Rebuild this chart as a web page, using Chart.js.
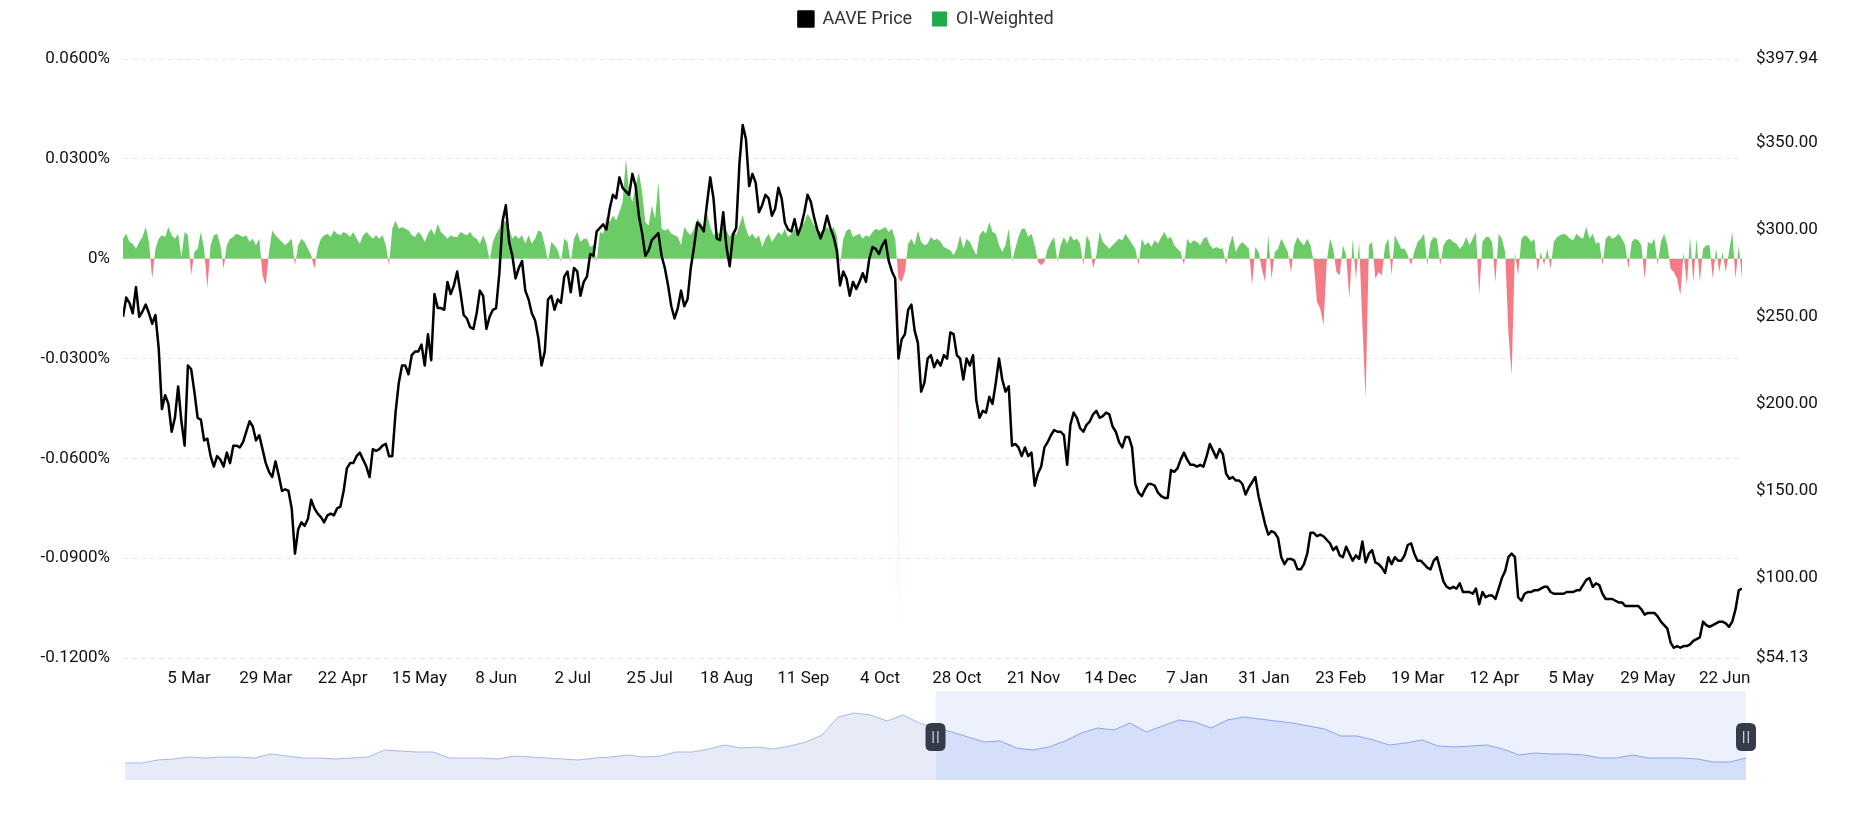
<!DOCTYPE html>
<html>
<head>
<meta charset="utf-8">
<title>AAVE Funding Rate</title>
<script src="https://cdn.jsdelivr.net/npm/chart.js@4.4.0/dist/chart.umd.min.js"></script>
<style>
	html, body { margin: 0; padding: 0; background: #fff; }
	#wrap { position: relative; width: 1852px; height: 825px; }
	#main { position: absolute; left: 0; top: 0; }
	#preview { position: absolute; left: 105px; top: 685px; }
</style>
</head>
<body>
<div id="wrap">
	<canvas id="main" width="1852" height="825"></canvas>
	<canvas id="preview" width="1661" height="100"></canvas>
</div>
<script>
// one value per day, day 0 = first candle on the chart
var price = [
	250,261,258,252,267,250,253,257,252,246,
	251,232,197,205,200,184,192,210,190,176,
	222,220,207,192,191,179,180,170,164,170,
	168,164,172,166,176,176,175,178,184,190,
	187,179,182,174,166,161,158,167,159,150,
	151,150,140,114,128,132,130,134,145,140,
	137,135,132,136,137,136,140,141,150,163,
	166,166,170,172,168,164,158,174,173,174,
	176,177,170,170,195,212,222,222,217,228,
	230,230,234,222,240,225,263,255,255,254,
	270,263,268,276,264,251,249,244,243,252,
	265,262,243,250,254,255,275,305,314,293,
	285,272,278,282,265,260,
	252,248,238,222,230,260,262,254,260,258,
	273,276,264,278,276,262,270,273,286,285,
	299,301,303,300,312,320,318,330,324,322,
	320,332,325,308,298,285,288,294,296,298,
	285,278,268,256,249,255,265,256,260,278,
	290,304,302,299,315,330,318,295,294,310,
	290,279,297,301,338,360,352,325,332,327,
	310,314,320,318,308,312,324,318,304,300,
	299,306,297,302,310,320,316,307,300,295,
	300,308,301,296,288,268,276,272,262,270,
	266,270,275,270,283,290,289,286,291,294,
	282,276,272,226,237,240,254,257,242,235,
	207,212,226,228,221,
	225,222,228,226,241,240,228,226,214,226,
	222,228,202,192,196,195,204,200,212,226,
	214,207,210,176,177,175,170,175,170,172,
	153,160,164,175,178,182,185,184,184,182,
	165,188,195,192,186,184,188,190,194,196,
	192,193,195,194,187,184,178,175,181,181,
	175,154,149,147,151,154,154,153,149,147,
	146,146,162,161,163,168,172,168,165,165,
	164,165,164,170,177,173,169,174,171,160,
	157,158,156,156,154,148,152,155,158,147,
	139,131,125,127,126,123,112,108,111,111,
	110,105,105,108,114,126,126,124,125,124,
	122,120,116,118,113,
	112,118,114,110,113,111,121,109,114,116,
	109,108,106,103,112,108,112,110,110,113,
	119,120,114,110,110,108,106,105,110,112,
	105,98,95,94,95,94,97,92,92,92,
	91,94,85,92,89,90,90,88,94,100,
	104,112,114,112,89,87,91,92,92,93,
	93,94,95,95,92,91,91,91,91,92,
	92,92,93,93,96,99,100,95,97,96,
	91,88,88,88,87,86,86,84,84,84,
	84,84,82,79,80,80,80,78,75,73,
	71,63,60,61,60,61,61,62,64,65,
	66,75,73,72,73,74,75,75,74,72,
	75,82,93,94
];

// OI-weighted funding rate, in percent
var funding = [
	0.006,0.0075,0.005,0.0045,0.003,0.005,0.0065,0.0095,0.005,-0.006,
	0.003,0.006,0.007,0.0065,0.0095,0.007,0.006,0.0075,0.0005,0.008,
	0.007,-0.005,0.002,0.003,0.008,0.003,-0.009,0.004,0.007,0.0075,
	0.004,-0.003,0.004,0.006,0.0065,0.0075,0.007,0.0065,0.007,0.005,
	0.006,0.004,0.006,-0.005,-0.008,0.002,0.0085,0.007,0.006,0.005,
	0.004,0.005,0.006,-0.002,0.004,0.006,0.005,0.003,0.001,-0.003,
	0.003,0.006,0.007,0.0075,0.0065,0.0085,0.0075,0.007,0.008,0.0075,
	0.0065,0.008,0.006,0.0045,0.007,0.008,0.007,0.006,0.007,0.006,
	0.007,0.004,-0.002,0.009,0.0115,0.009,0.0095,0.009,0.0085,0.007,
	0.0065,0.008,0.007,0.005,0.0075,0.009,0.007,0.0105,0.008,0.007,
	0.006,0.007,0.0065,0.0065,0.008,0.0075,0.007,0.008,0.0065,0.006,
	0.0045,0.007,0.0045,-0.0005,0.005,0.0075,0.009,0.012,0.011,0.009,
	0.006,0.007,0.006,0.007,0.0045,0.007,
	0.0045,0.006,0.0085,0.008,0.004,-0.001,0.005,0.004,0.0025,-0.001,
	0.006,0.005,-0.001,0.006,0.008,0.005,0.006,0.006,0.0035,0.004,
	-0.001,0.008,0.0075,0.0125,0.011,0.013,0.0115,0.014,0.017,0.03,
	0.02,0.017,0.022,0.026,0.02,0.011,0.01,0.016,0.012,0.023,
	0.009,0.0085,0.009,0.0075,0.007,0.0065,0.004,0.0095,0.008,0.007,
	0.009,0.012,0.011,0.009,0.0135,0.0095,0.007,0.008,0.0075,0.01,
	0.0085,0.0065,0.0085,0.007,0.01,0.013,0.009,0.0065,0.0075,0.006,
	0.007,0.0035,0.006,0.0075,0.005,0.0065,0.008,0.007,0.009,0.0065,
	0.0075,0.009,0.008,0.0095,0.011,0.0135,0.012,0.01,0.009,0.008,
	0.009,0.0095,0.0085,0.0095,0.007,-0.002,0.006,0.0085,0.009,0.0065,
	0.007,0.0075,0.006,0.007,0.0065,0.008,0.009,0.0085,0.009,0.0095,
	0.008,0.009,0.006,-0.006,-0.007,-0.004,0.0045,0.006,0.004,0.0085,
	0.005,0.004,0.0045,0.0065,0.0055,
	0.006,0.005,0.0035,0.003,0.0025,0.001,0.003,0.007,0.003,0.006,
	0.005,0.003,0.001,0.007,0.0085,0.0075,0.011,0.008,0.0075,0.004,
	0.002,0.004,0.009,-0.001,0.003,0.0065,0.009,0.009,0.0065,0.0075,
	0.004,-0.001,-0.002,-0.001,0.003,0.005,0.0065,-0.001,0.004,0.0065,
	0.0045,0.007,0.0055,0.006,0.0045,-0.002,0.007,0.005,-0.003,0.001,
	0.008,0.005,0.004,0.003,0.004,0.005,0.006,0.0055,0.0075,0.006,
	0.0045,0.003,-0.002,0.006,0.004,0.005,0.0035,0.0055,0.0045,0.0065,
	0.008,0.006,0.0065,0.004,0.003,0.002,-0.002,0.006,0.0045,0.0055,
	0.005,0.004,0.006,0.0065,0.004,0.003,0.0035,0.003,0.003,-0.002,
	0.004,0.007,0.002,0.004,0.005,0.004,0.003,-0.008,0.0035,0.002,
	-0.003,-0.007,0.007,-0.006,0.002,0.003,0.006,0.004,0.002,-0.004,
	0.004,0.0065,0.005,0.004,0.006,0.004,-0.001,-0.013,-0.015,-0.02,
	-0.001,0.006,0.003,-0.004,-0.005,
	0.004,0.001,-0.012,0.006,-0.006,0.005,-0.02,-0.042,0.004,0.005,
	-0.006,-0.004,-0.005,0.004,0.006,-0.005,0.007,0.005,0.003,0.003,
	0.001,-0.002,0.002,0.005,0.006,0.0075,-0.002,0.005,0.0065,0.006,
	-0.002,0.004,0.0055,0.006,0.005,0.0045,0.003,0.004,0.0065,0.004,
	0.006,0.008,-0.011,0.005,0.0065,0.0065,0.005,-0.007,0.0075,0.006,
	0.002,-0.022,-0.035,0.002,-0.005,0.006,0.007,0.0065,0.005,0.006,
	-0.004,0.002,-0.002,0.003,-0.003,0.005,0.0065,0.007,0.0075,0.007,
	0.006,0.0055,0.0075,0.0065,0.006,0.0095,0.006,0.0075,0.0045,0.005,
	-0.002,0.006,0.007,0.006,0.0065,0.0075,0.006,0.004,-0.003,0.005,
	0.006,0.0055,0.004,-0.006,0.005,0.0045,0.006,-0.002,0.005,0.0075,
	0.004,-0.003,-0.004,-0.006,-0.011,0.002,-0.008,0.0065,-0.007,0.006,
	-0.007,0.003,0.004,0.004,-0.006,0.003,-0.004,0.002,-0.004,0.002,
	0.008,-0.006,0.004,-0.006
];

// the single 8h print during the October crash
var spikeDays = [239.05, 239.1, 239.15];
var spikeValues = [-0.006, -0.117, -0.006];

var xTickLabels = ['5 Mar','29 Mar','22 Apr','15 May','8 Jun','2 Jul','25 Jul','18 Aug','11 Sep','4 Oct',
	'28 Oct','21 Nov','14 Dec','7 Jan','31 Jan','23 Feb','19 Mar','12 Apr','5 May','29 May','22 Jun'];
var firstTickDay = 20.34;
var tickStepDays = 23.667;
var rateTicks = [-0.12, -0.09, -0.06, -0.03, 0, 0.03, 0.06];
var priceTicks = [54.13, 100, 150, 200, 250, 300, 350, 397.94];

// data zoom thumbnail (whole history), window covers the second half
var previewValues = [
	17,17,20,21,23,22,23,23,22,26,
	24,22,22,21,22,23,30,29,28,28,
	22,22,22,21,24,23,22,21,20,22,
	23,25,23,24,28,28,31,35,32,33,
	31,34,38,45,63,67,65,59,65,57,
	52,48,43,38,39,32,30,33,39,47,
	52,50,57,48,54,60,58,52,60,63,
	61,59,57,54,51,44,44,40,35,37,
	40,34,33,34,35,31,25,27,26,26,
	25,22,22,25,22,22,22,21,18,18,
	22
];
var windowStart = 50;
var windowEnd = 100;

var font = { family: 'Roboto', size: 17 };
var legendFont = { family: 'Roboto', size: 18 };
var textColor = '#111';

var xTickDays = xTickLabels.map(function(l, i) { return firstTickDay + i * tickStepDays; });

var priceData = price.map(function(v, i) { return { x: i, y: v }; });
var fundingData = funding.map(function(v, i) { return { x: i, y: v }; });
spikeDays.forEach(function(d, k) { fundingData.push({ x: d, y: spikeValues[k] }); });
fundingData.sort(function(a, b) { return a.x - b.x; });

// extra room between legend and plot
var legendGap = {
	id: 'legendGap',
	beforeInit: function(chart) {
		var fit = chart.legend.fit;
		chart.legend.fit = function() {
			fit.bind(chart.legend)();
			this.height += 21;
		};
	}
};

new Chart(document.getElementById('main'), {
	type: 'line',
	data: {
		datasets: [
			{
				label: 'AAVE Price',
				data: priceData,
				yAxisID: 'yPrice',
				borderColor: '#000',
				backgroundColor: '#000',
				borderWidth: 2.5,
				borderJoinStyle: 'round',
				pointRadius: 0,
				tension: 0,
				fill: false
			},
			{
				label: 'OI-Weighted',
				data: fundingData,
				yAxisID: 'yRate',
				borderColor: 'rgba(0,0,0,0)',
				backgroundColor: '#22a94e',
				borderWidth: 0,
				pointRadius: 0,
				tension: 0,
				fill: { target: 'origin', above: '#6bcb66', below: '#f47a86' }
			}
		]
	},
	options: {
		responsive: false,
		animation: false,
		layout: { padding: { top: -10, left: 0, right: 0, bottom: 0 } },
		plugins: {
			legend: {
				position: 'top',
				labels: { boxWidth: 15, boxHeight: 15, padding: 20, color: '#333', font: legendFont }
			},
			tooltip: { enabled: false }
		},
		scales: {
			x: {
				type: 'linear',
				min: 0,
				max: 499,
				grid: { display: false, drawTicks: false },
				border: { display: false },
				ticks: {
					autoSkip: false,
					maxRotation: 0,
					padding: 11,
					color: textColor,
					font: font,
					callback: function(v, i) { return xTickLabels[i]; }
				},
				afterBuildTicks: function(scale) {
					scale.ticks = xTickDays.map(function(d) { return { value: d }; });
				},
				afterFit: function(scale) { scale.height = 167; }
			},
			yRate: {
				position: 'left',
				min: -0.12,
				max: 0.06,
				grid: { color: '#e8e8e8', drawTicks: false },
				border: { display: false, dash: [5, 4] },
				ticks: {
					padding: 13,
					color: textColor,
					font: font,
					callback: function(v) { return v === 0 ? '0%' : v.toFixed(4) + '%'; }
				},
				afterBuildTicks: function(scale) {
					scale.ticks = rateTicks.map(function(v) { return { value: v }; });
				},
				afterFit: function(scale) { scale.width = 123; }
			},
			yPrice: {
				position: 'right',
				min: 54.13,
				max: 397.94,
				grid: { display: false, drawTicks: false },
				border: { display: false },
				ticks: {
					padding: 14,
					color: textColor,
					font: font,
					callback: function(v) { return '$' + v.toFixed(2); }
				},
				afterBuildTicks: function(scale) {
					scale.ticks = priceTicks.map(function(v) { return { value: v }; });
				},
				afterFit: function(scale) { scale.width = 110; }
			}
		}
	},
	plugins: [legendGap]
});

function splitColor(context, left, right) {
	var chart = context.chart;
	var area = chart.chartArea;
	if (!area || !chart.scales.x) return right;
	var xs = chart.scales.x.getPixelForValue(windowStart);
	var frac = (xs - area.left) / (area.right - area.left);
	var g = chart.ctx.createLinearGradient(area.left, 0, area.right, 0);
	g.addColorStop(0, left);
	g.addColorStop(frac, left);
	g.addColorStop(frac, right);
	g.addColorStop(1, right);
	return g;
}

function drawHandle(ctx, x, y) {
	var w = 20, h = 28, r = 6;
	var l = x - w / 2, t = y - h / 2;
	ctx.beginPath();
	ctx.moveTo(l + r, t);
	ctx.lineTo(l + w - r, t);
	ctx.quadraticCurveTo(l + w, t, l + w, t + r);
	ctx.lineTo(l + w, t + h - r);
	ctx.quadraticCurveTo(l + w, t + h, l + w - r, t + h);
	ctx.lineTo(l + r, t + h);
	ctx.quadraticCurveTo(l, t + h, l, t + h - r);
	ctx.lineTo(l, t + r);
	ctx.quadraticCurveTo(l, t, l + r, t);
	ctx.closePath();
	ctx.fillStyle = '#363b4c';
	ctx.fill();
	ctx.fillStyle = '#c9ccd6';
	ctx.fillRect(x - 3, y - 6, 1.3, 12);
	ctx.fillRect(x + 1.7, y - 6, 1.3, 12);
}

var zoomWindow = {
	id: 'zoomWindow',
	beforeDatasetsDraw: function(chart) {
		var a = chart.chartArea, ctx = chart.ctx;
		var x0 = chart.scales.x.getPixelForValue(windowStart);
		var x1 = chart.scales.x.getPixelForValue(windowEnd);
		ctx.save();
		ctx.fillStyle = '#edf1fd';
		ctx.fillRect(x0, a.top, x1 - x0, a.bottom - a.top);
		ctx.restore();
	},
	afterDatasetsDraw: function(chart) {
		var a = chart.chartArea, ctx = chart.ctx;
		var mid = (a.top + a.bottom) / 2 + 1.5;
		ctx.save();
		drawHandle(ctx, chart.scales.x.getPixelForValue(windowStart), mid);
		drawHandle(ctx, chart.scales.x.getPixelForValue(windowEnd), mid);
		ctx.restore();
	}
};

new Chart(document.getElementById('preview'), {
	type: 'line',
	data: {
		datasets: [{
			data: previewValues.map(function(v, i) { return { x: i, y: v }; }),
			borderWidth: 1,
			pointRadius: 0,
			tension: 0,
			fill: 'origin',
			backgroundColor: function(c) { return splitColor(c, '#e6ebf7', '#d6dffa'); },
			borderColor: function(c) { return splitColor(c, '#a4b9ec', '#8aa5ee'); }
		}]
	},
	options: {
		responsive: false,
		animation: false,
		layout: { padding: { left: 20, right: 20, top: 6, bottom: 5 } },
		scales: {
			x: { type: 'linear', display: false, min: 0, max: 100 },
			y: { display: false, min: 0, max: 89 }
		},
		plugins: { legend: { display: false }, tooltip: { enabled: false } }
	},
	plugins: [zoomWindow]
});
</script>
</body>
</html>
